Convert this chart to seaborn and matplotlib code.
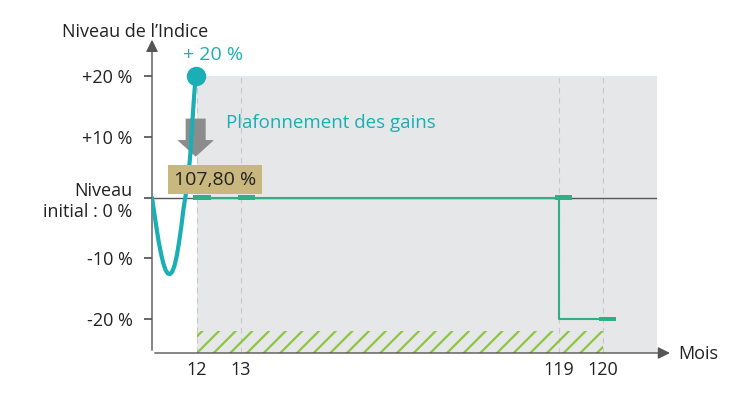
import matplotlib
matplotlib.use("Agg")
import matplotlib.pyplot as plt
import seaborn as sns
import numpy as np
import pandas as pd
from matplotlib.patches import Rectangle

sns.set_theme(style="white")
plt.rcParams['font.family'] = ['Open Sans', 'DejaVu Sans']
plt.rcParams['hatch.linewidth'] = 1.6

# data
month_labels = ["12", "13", "119", "120"]
month_pos = [1.0, 1.98, 9.04, 10.02]          # positions on the broken month axis
curve_x = [0.0, 0.05, 0.1, 0.15, 0.2, 0.25, 0.3, 0.35, 0.4, 0.45, 0.5, 0.55, 0.6,
           0.65, 0.7, 0.75, 0.8, 0.85, 0.88, 0.91, 0.94, 0.97]
curve_y = [0.0, -2.5, -5.0, -7.3, -9.2, -10.8, -11.9, -12.5, -12.6, -12.2, -11.2,
           -9.6, -7.4, -4.8, -1.8, 0.5, 3.0, 7.0, 10.5, 14.0, 17.2, 20.0]
step_x = [1.0, 9.04, 9.04, 10.02]
step_y = [0.0, 0.0, -20.0, -20.0]
obs_pos = [1.0, 1.98, 9.04, 10.02]
obs_val = [0.0, 0.0, 0.0, -20.0]
ytick_vals = [20, 10, 0, -10, -20]
ytick_labels = ["+20 %", "+10 %", "Niveau\ninitial : 0 %", "-10 %", "-20 %"]

teal = "#1aaeb5"
green = "#2fb083"
fig = plt.figure(figsize=(7.41, 4.2), dpi=100)
ax = fig.add_axes([152/741, 1-353/420, (657-152)/741, (353-40)/420])
xmin, xmax, ymin, ymax = 0, 11.22, -25.6, 26
ax.set_xlim(xmin, xmax); ax.set_ylim(ymin, ymax)
for s in ax.spines.values():
    s.set_visible(False)

# grey background
ax.add_patch(Rectangle((1.0, ymin), xmax-1.0, 20-ymin, color="#e6e7e8", zorder=0, lw=0))
ax.vlines(month_pos, ymin, 20, color="#c8c8c8", lw=0.8, ls=(0, (5, 4)), zorder=1)
ax.axhline(0, color="#555555", lw=1, zorder=2)

# hatched zone
ax.add_patch(Rectangle((1.0, ymin), 10.02-1.0, 3.6, fill=False,
                       hatch="//", edgecolor="#8cc63f", lw=0, zorder=2))

df = pd.DataFrame({"x": curve_x, "y": curve_y})
sns.lineplot(data=df, x="x", y="y", ax=ax, color=teal, lw=3, sort=False, zorder=5)
ax.plot(curve_x[-1], curve_y[-1], "o", color=teal, ms=13, zorder=6)
sns.lineplot(x=step_x, y=step_y, ax=ax, color=green, lw=1.5, zorder=4, estimator=None, sort=False)
for p, v in zip(obs_pos, obs_val):
    ax.add_patch(Rectangle((p-0.08, v-0.4), 0.38, 0.8, color=green, zorder=5, lw=0))

# grey arrow
ax.annotate("", xy=(0.97, 6.3), xytext=(0.97, 13.5),
            arrowprops=dict(arrowstyle="simple,head_width=2.2,head_length=1.0,tail_width=1.2",
                            color="#8c8c8c", lw=0), zorder=3)
ax.text(1.4, 3.0, "107,80 %", fontsize=14, ha="center", va="center", color="#222222", zorder=7,
        bbox=dict(boxstyle="square,pad=0.3", fc="#c9b77d", ec="none"))
ax.text(1.65, 12.3, "Plafonnement des gains", color=teal, fontsize=13.5, va="center")
ax.text(1.35, 23.5, "+ 20 %", color=teal, fontsize=14, ha="center", va="center")

# axes arrows
ax.annotate("", xy=(0, 26.5), xytext=(0, ymin), annotation_clip=False,
            arrowprops=dict(arrowstyle="-|>,head_width=0.3,head_length=0.6", color="#555555", lw=1))
ax.annotate("", xy=(xmax+0.35, ymin), xytext=(0, ymin), annotation_clip=False,
            arrowprops=dict(arrowstyle="-|>,head_width=0.3,head_length=0.6", color="#555555", lw=1))
fig.text(62/741, 1-32/420, "Niveau de l\u2019Indice", fontsize=13, va="center", color="#222222")
fig.text(678/741, 1-354/420, "Mois", fontsize=13, va="center", color="#222222")

ax.set_yticks(ytick_vals)
ax.set_yticklabels(ytick_labels, fontsize=13, color="#222222", ha="right", multialignment="right")
ax.set_xticks(month_pos)
ax.set_xticklabels(month_labels, fontsize=13, color="#222222")
ax.tick_params(axis="y", length=6, color="#555555", left=True, direction="out", pad=8)
ax.tick_params(axis="x", length=0, pad=6)
ax.set_xlabel(""); ax.set_ylabel("")
fig.savefig("out.png", dpi=100)
